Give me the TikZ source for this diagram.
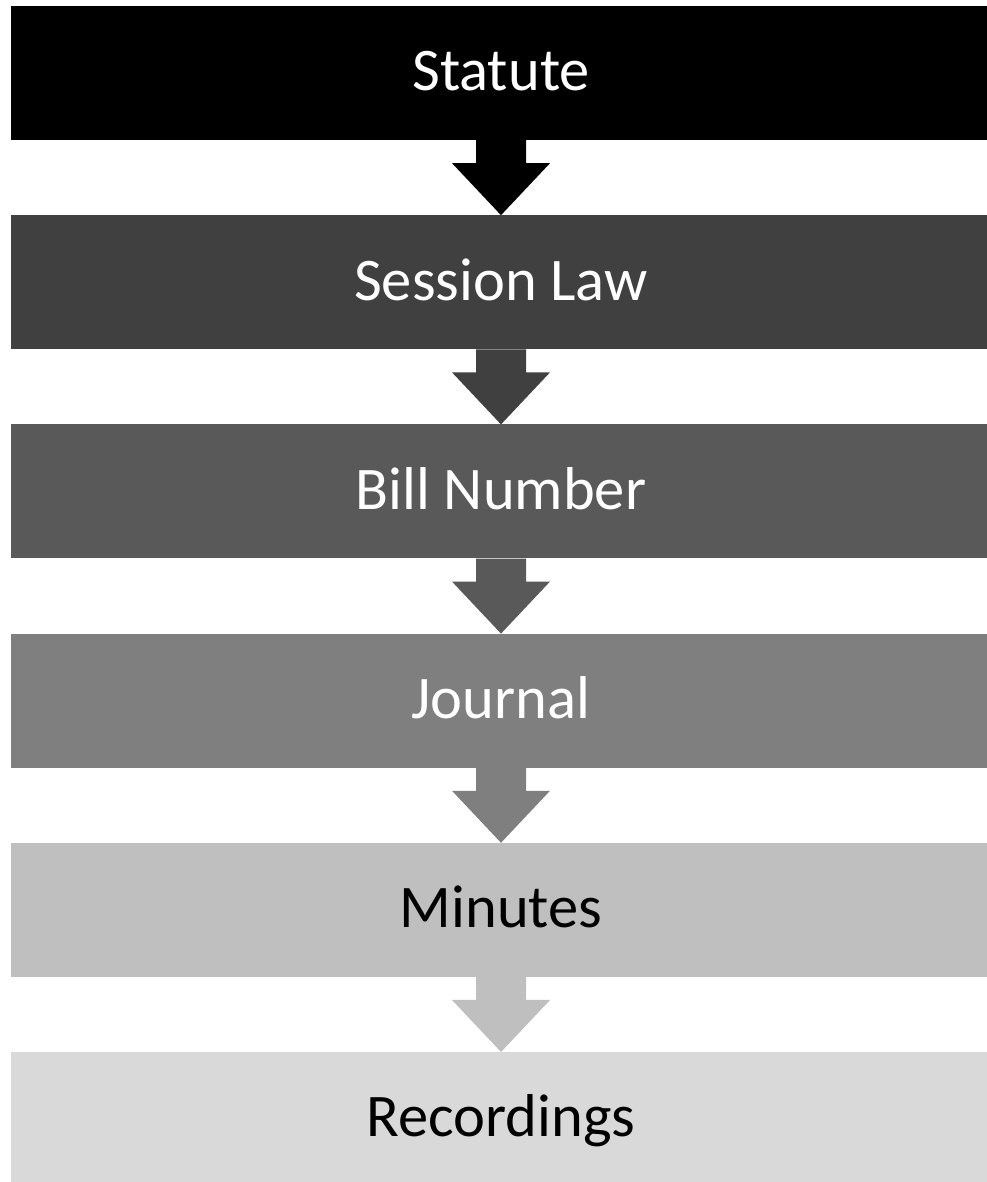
\documentclass[tikz,border=0pt]{standalone}
\usepackage{fontspec}
\setmainfont{Carlito}
\definecolor{g1}{HTML}{000000}
\definecolor{g2}{HTML}{404040}
\definecolor{g3}{HTML}{595959}
\definecolor{g4}{HTML}{7F7F7F}
\definecolor{g5}{HTML}{BFBFBF}
\definecolor{g6}{HTML}{D9D9D9}
\tikzset{
  box/.style={rectangle, inner sep=0pt, minimum width=980pt, minimum height=134pt,
    font=\fontsize{60.5}{70}\selectfont, text height=40pt, text depth=4pt},
}
\newcommand{\downarrowshape}[2]{%
  \fill[#2] ([xshift=-25pt]#1.south) -- ++(0,-23pt) -- ++(-24pt,0) -- ++(49pt,-52pt)
    -- ++(49pt,52pt) -- ++(-24pt,0) -- ++(0,23pt) -- cycle;}
\begin{document}
\begin{tikzpicture}[x=1pt,y=1pt]
\useasboundingbox (0,0) rectangle (986,1182);
\node[box, fill=g1, text=white] (b1) at (501,1109) {Statute};
\node[box, fill=g2, text=white] (b2) at (501,899.8) {Session Law};
\node[box, fill=g3, text=white] (b3) at (501,690.6) {Bill Number};
\node[box, fill=g4, text=white] (b4) at (501,481.4) {Journal};
\node[box, fill=g5, text=black] (b5) at (501,272.2) {Minutes};
\node[box, fill=g6, text=black] (b6) at (501,63) {Recordings};
\downarrowshape{b1}{g1}
\downarrowshape{b2}{g2}
\downarrowshape{b3}{g3}
\downarrowshape{b4}{g4}
\downarrowshape{b5}{g5}
\end{tikzpicture}
\end{document}
